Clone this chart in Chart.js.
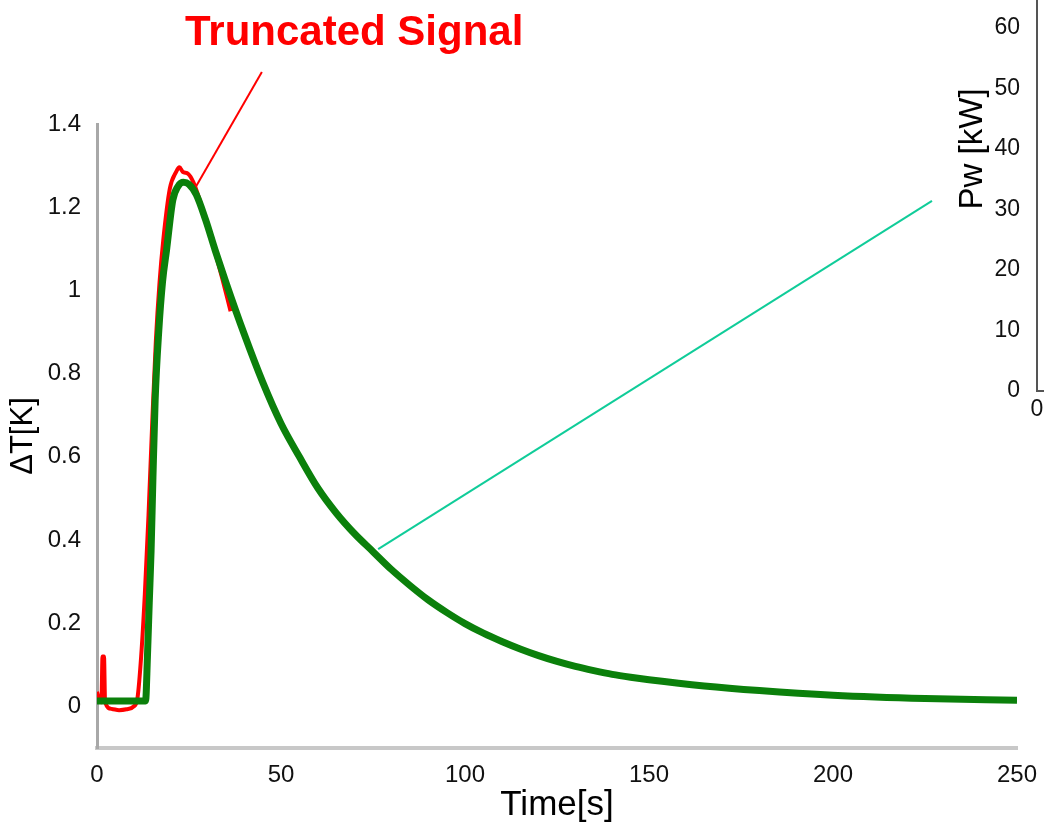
<!DOCTYPE html>
<html>
<head>
<meta charset="utf-8">
<script src="https://cdn.jsdelivr.net/npm/chart.js@4.4.1/dist/chart.umd.min.js"></script>
<style>
  html, body { margin: 0; padding: 0; background: #fff; overflow: hidden; width: 1044px; height: 823px; }
  #wrap { position: relative; width: 1044px; height: 823px; overflow: hidden; }
  #main { position: absolute; left: 0; top: 0; }
  #inset { position: absolute; left: 940px; top: -124px; }
</style>
</head>
<body>
<div id="wrap">
  <canvas id="main" width="1044" height="823"></canvas>
  <canvas id="inset" width="400" height="560"></canvas>
</div>
<script>
// ---------- data ----------
const xTicks = [0, 50, 100, 150, 200, 250];
const yTicks = [0, 0.2, 0.4, 0.6, 0.8, 1, 1.2, 1.4];

// fitted curve (green)
const fitTime = [0, 13.2, 13.7, 14.2, 14.7, 15.2, 15.8, 16.8, 17.8, 18.9, 20.6, 22, 23.5, 25, 27, 29.5, 32.1, 35, 40, 45, 50, 55, 60, 65, 70, 75, 80, 85, 90, 95, 100, 105, 110, 115, 120, 125, 130, 135, 140, 145, 150, 165, 180, 200, 225, 250];
const fitDT   = [0.013, 0.013, 0.118, 0.25, 0.375, 0.55, 0.736, 0.905, 1.02, 1.097, 1.217, 1.25, 1.26, 1.255, 1.23, 1.17, 1.097, 1.02, 0.895, 0.78, 0.68, 0.6, 0.525, 0.465, 0.415, 0.372, 0.329, 0.291, 0.256, 0.226, 0.199, 0.176, 0.156, 0.138, 0.122, 0.108, 0.096, 0.086, 0.077, 0.07, 0.064, 0.049, 0.038, 0.027, 0.019, 0.015];

// truncated measured signal (red)
const sigTime = [0, 0.6, 1.2, 1.5, 1.9, 2.2, 4, 6, 8, 10, 11, 12, 13, 14, 15, 16, 17, 18, 19.8, 21.5, 22.4, 23.3, 24.8, 26.2, 28, 30, 32, 34, 36.3];
const sigDT   = [0.035, 0.015, 0.01, 0.12, 0.12, 0.01, -0.006, -0.009, -0.007, 0.0, 0.02, 0.12, 0.27, 0.46, 0.68, 0.88, 1.02, 1.12, 1.245, 1.285, 1.296, 1.285, 1.28, 1.26, 1.215, 1.155, 1.095, 1.03, 0.95];

// inset (right) axis ticks
const insetYTicks = [0, 10, 20, 30, 40, 50, 60, 70, 80];
const insetXTicks = [0, 50, 100, 150, 200, 250];

// annotation anchors (data units of main chart)
const annTitle = 'Truncated Signal';
const annTitleAt = [23.9, 1.59];
const redPointerFrom = [44.8, 1.525];
const redPointerTo = [26.9, 1.25];
const tealPointerFrom = [76.4, 0.378];
const tealPointerTo = [226.9, 1.215];

// ---------- helpers ----------
const FONT = '"Liberation Sans", Arial, Helvetica, sans-serif';
const pts = (xs, ys) => xs.map((x, i) => ({ x: x, y: ys[i] }));
const setTicks = arr => scale => { scale.ticks = arr.map(v => ({ value: v })); };
const fmt = v => String(Math.round(v * 10) / 10);

const annotationPlugin = {
  id: 'annotations',
  afterDatasetsDraw(chart) {
    const { ctx, scales: { x, y } } = chart;
    const px = p => [x.getPixelForValue(p[0]), y.getPixelForValue(p[1])];
    ctx.save();
    let a = px(redPointerFrom), b = px(redPointerTo);
    ctx.strokeStyle = '#ff0000';
    ctx.lineWidth = 2;
    ctx.beginPath(); ctx.moveTo(a[0], a[1]); ctx.lineTo(b[0], b[1]); ctx.stroke();
    a = px(tealPointerFrom); b = px(tealPointerTo);
    ctx.strokeStyle = '#10cc99';
    ctx.lineWidth = 2;
    ctx.beginPath(); ctx.moveTo(a[0], a[1]); ctx.lineTo(b[0], b[1]); ctx.stroke();
    const t = px(annTitleAt);
    ctx.fillStyle = '#ff0000';
    ctx.font = 'bold 42px ' + FONT;
    ctx.textAlign = 'left';
    ctx.textBaseline = 'alphabetic';
    ctx.fillText(annTitle, t[0], t[1]);
    ctx.restore();
  }
};

// ---------- main chart ----------
new Chart(document.getElementById('main'), {
  type: 'line',
  data: {
    datasets: [
      {
        label: 'Fit',
        data: pts(fitTime, fitDT),
        borderColor: '#0b800b',
        borderWidth: 7,
        pointRadius: 0,
        fill: false,
        cubicInterpolationMode: 'monotone'
      },
      {
        label: 'Truncated Signal',
        data: pts(sigTime, sigDT),
        borderColor: '#ff0000',
        borderWidth: 4,
        pointRadius: 0,
        fill: false,
        cubicInterpolationMode: 'monotone'
      }
    ]
  },
  options: {
    responsive: false,
    animation: false,
    events: [],
    layout: { padding: { top: 124, right: 27, left: 0, bottom: 0 } },
    plugins: { legend: { display: false }, tooltip: { enabled: false } },
    scales: {
      x: {
        type: 'linear',
        min: 0, max: 250,
        afterBuildTicks: setTicks(xTicks),
        afterFit: s => { s.height = 75; },
        grid: { display: false, drawTicks: true, tickLength: 9 },
        border: { display: true, color: '#c8c8c8', width: 4 },
        ticks: { color: '#111', font: { family: FONT, size: 24 }, padding: 4, maxRotation: 0, callback: fmt },
        title: { display: true, text: 'Time[s]', color: '#000', font: { family: FONT, size: 35, lineHeight: 1 }, padding: { top: 1, bottom: 0 } }
      },
      y: {
        type: 'linear',
        min: -0.1, max: 1.4,
        afterBuildTicks: setTicks(yTicks),
        afterFit: s => { s.width = 97; },
        grid: { display: false, drawTicks: false },
        border: { display: true, color: '#a8a8a8', width: 3 },
        ticks: { color: '#111', font: { family: FONT, size: 24 }, padding: 16, callback: fmt },
        title: { display: true, text: 'ΔT[K]', color: '#000', font: { family: FONT, size: 31, lineHeight: 1.2 }, padding: { top: 5, bottom: 0 } }
      }
    }
  },
  plugins: [annotationPlugin]
});

// ---------- inset (partially visible) ----------
new Chart(document.getElementById('inset'), {
  type: 'line',
  data: { datasets: [] },
  options: {
    responsive: false,
    animation: false,
    events: [],
    layout: { padding: { top: 20, right: 0, left: 0, bottom: 0 } },
    plugins: { legend: { display: false }, tooltip: { enabled: false } },
    scales: {
      x: {
        type: 'linear',
        min: 0, max: 250,
        afterBuildTicks: setTicks(insetXTicks),
        afterFit: s => { s.height = 45; },
        grid: { display: false, drawTicks: false },
        border: { display: true, color: '#555', width: 2 },
        ticks: { color: '#111', font: { family: FONT, size: 23 }, padding: 5, maxRotation: 0 }
      },
      y: {
        type: 'linear',
        min: 0, max: 80,
        afterBuildTicks: setTicks(insetYTicks),
        afterFit: s => { s.width = 97; },
        grid: { display: false, drawTicks: false },
        border: { display: true, color: '#555', width: 2 },
        ticks: { color: '#111', font: { family: FONT, size: 23 }, padding: 17 },
        title: { display: true, text: 'Pw [kW]', color: '#000', font: { family: FONT, size: 33, lineHeight: 1.2 }, padding: { top: 13, bottom: 0 } }
      }
    }
  }
});
</script>
</body>
</html>
